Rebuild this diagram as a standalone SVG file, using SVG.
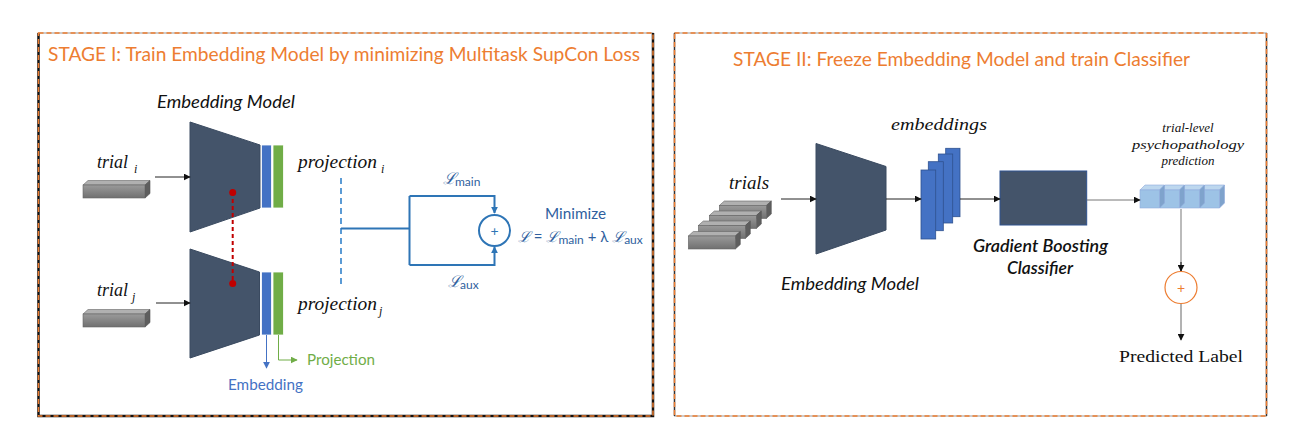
<svg xmlns="http://www.w3.org/2000/svg" width="1310" height="436" viewBox="0 0 1310 436">
<defs>
<style>
.title{font-family:Lato,"Open Sans","Liberation Sans",sans-serif;font-size:19px;fill:#ED7D31}
.si{font-family:"Liberation Serif","DejaVu Serif",serif;font-style:italic;fill:#111}
.sans{font-family:Lato,"Open Sans","Liberation Sans",sans-serif}
.model{fill:#44546A;stroke:#3A4A60;stroke-width:1}
.blk{stroke:#222;stroke-width:1;fill:none}
.bl{stroke:#2E75B6;stroke-width:2;fill:none}
</style>
<marker id="ab" viewBox="0 0 10 10" refX="9" refY="5" markerWidth="7" markerHeight="7" orient="auto" markerUnits="userSpaceOnUse"><path d="M0,0L10,5L0,10z" fill="#111"/></marker>
<marker id="abl" viewBox="0 0 10 10" refX="9" refY="5" markerWidth="7" markerHeight="7" orient="auto" markerUnits="userSpaceOnUse"><path d="M0,0L10,5L0,10z" fill="#2E75B6"/></marker>
<marker id="aeb" viewBox="0 0 10 10" refX="9" refY="5" markerWidth="7" markerHeight="7" orient="auto" markerUnits="userSpaceOnUse"><path d="M0,0L10,5L0,10z" fill="#4472C4"/></marker>
<marker id="agr" viewBox="0 0 10 10" refX="9" refY="5" markerWidth="7" markerHeight="7" orient="auto" markerUnits="userSpaceOnUse"><path d="M0,0L10,5L0,10z" fill="#70AD47"/></marker>
<linearGradient id="gbar" x1="0" y1="0" x2="0" y2="1"><stop offset="0" stop-color="#9a9a9a"/><stop offset="1" stop-color="#707070"/></linearGradient>
<g id="bar">
<polygon points="0,0 5,-4.5 67,-4.5 62,0" fill="#b0b0b0" stroke="#666" stroke-width="0.6"/>
<polygon points="62,0 67,-4.5 67,8.5 62,13" fill="#5e5e5e" stroke="#555" stroke-width="0.6"/>
<rect x="0" y="0" width="62" height="13" fill="url(#gbar)" stroke="#666" stroke-width="0.6"/>
</g>
<g id="bar2">
<polygon points="0,0 5,-4.5 52,-4.5 47,0" fill="#b0b0b0" stroke="#666" stroke-width="0.6"/>
<polygon points="47,0 52,-4.5 52,8.5 47,13" fill="#5e5e5e" stroke="#555" stroke-width="0.6"/>
<rect x="0" y="0" width="47" height="13" fill="url(#gbar)" stroke="#666" stroke-width="0.6"/>
</g>
<g id="cube">
<polygon points="0,0 5,-5 24.5,-5 19.5,0" fill="#BDD7EE" stroke="#8FAADC" stroke-width="0.6"/>
<polygon points="19.5,0 24.5,-5 24.5,13 19.5,18" fill="#7FA3CC" stroke="#8FAADC" stroke-width="0.6"/>
<rect x="0" y="0" width="19.5" height="18" fill="#9DC3E6" stroke="#8FAADC" stroke-width="0.6"/>
</g>
</defs>
<rect width="1310" height="436" fill="#fff"/>

<!-- panels -->
<g id="panel1">
<rect x="38.5" y="33" width="614.5" height="383" fill="none" stroke="#999" stroke-width="1"/>
<path d="M38.5,33V416H653V33" fill="none" stroke="#111" stroke-width="2.5"/>
<rect x="38.5" y="33" width="614.5" height="383" fill="none" stroke="#ED7D31" stroke-width="1.5" stroke-dasharray="5,3"/>
<text class="title" x="48" y="61" textLength="592" lengthAdjust="spacingAndGlyphs">STAGE I: Train Embedding Model by minimizing Multitask SupCon Loss</text>
</g>
<g id="panel2">
<rect x="674.5" y="33" width="592" height="383" fill="none" stroke="#999" stroke-width="1"/>
<path d="M674.5,33V416M1266.5,33V416" fill="none" stroke="#333" stroke-width="1.5"/>
<rect x="674.5" y="33" width="592" height="383" fill="none" stroke="#ED7D31" stroke-width="1.5" stroke-dasharray="5,3"/>
<text class="title" x="733" y="66" textLength="457" lengthAdjust="spacingAndGlyphs">STAGE II: Freeze Embedding Model and train Classifier</text>
</g>

<!-- stage I nodes -->
<g id="trial-i">
<use href="#bar" x="83" y="185"/>
<text class="si" x="97" y="168" font-size="18">trial</text>
<text class="si" x="134" y="173" font-size="12">i</text>
</g>
<g id="trial-j">
<use href="#bar" x="83" y="314"/>
<text class="si" x="97" y="296" font-size="18">trial</text>
<text class="si" x="132" y="301" font-size="12">j</text>
</g>
<g id="model-top">
<text class="sans" x="157" y="108" font-size="17" font-style="italic" fill="#111" textLength="138" lengthAdjust="spacingAndGlyphs">Embedding Model</text>
<polygon class="model" points="190,122 260,145 260,208 190,232"/>
<rect x="261.5" y="145" width="10" height="63" fill="#4472C4" stroke="#fff" stroke-width="0.8"/>
<rect x="273" y="145" width="10.5" height="63" fill="#70AD47" stroke="#fff" stroke-width="0.8"/>
</g>
<g id="model-bottom">
<polygon class="model" points="190,249 259.5,272 259.5,335 190,358"/>
<rect x="261.5" y="272" width="10" height="63" fill="#4472C4" stroke="#fff" stroke-width="0.8"/>
<rect x="273" y="272" width="10.5" height="63" fill="#70AD47" stroke="#fff" stroke-width="0.8"/>
</g>
<g id="proj-i">
<text class="si" x="298" y="168" font-size="18" textLength="79" lengthAdjust="spacingAndGlyphs">projection</text>
<text class="si" x="381" y="173" font-size="12">i</text>
</g>
<g id="proj-j">
<text class="si" x="298" y="310" font-size="18" textLength="79" lengthAdjust="spacingAndGlyphs">projection</text>
<text class="si" x="379" y="315" font-size="12">j</text>
</g>
<g id="loss-labels" fill="#2F5F9E">
<text x="443" y="184" font-family="'DejaVu Serif',serif" font-style="italic" font-size="16">ℒ</text>
<text class="sans" x="455" y="186" font-size="12">main</text>
<text x="448" y="287" font-family="'DejaVu Serif',serif" font-style="italic" font-size="16">ℒ</text>
<text class="sans" x="460" y="289" font-size="12">aux</text>
<text class="sans" x="545" y="219" font-size="15.5" textLength="61" lengthAdjust="spacingAndGlyphs">Minimize</text>
<text x="518" y="242" font-size="15"><tspan font-family="'DejaVu Serif',serif" font-style="italic">ℒ</tspan><tspan class="sans"> = </tspan><tspan font-family="'DejaVu Serif',serif" font-style="italic">ℒ</tspan><tspan class="sans" font-size="12" dy="2">main</tspan><tspan class="sans" dy="-2"> + λ </tspan><tspan font-family="'DejaVu Serif',serif" font-style="italic">ℒ</tspan><tspan class="sans" font-size="12" dy="2">aux</tspan></text>
</g>
<g id="out-labels">
<text class="sans" x="228" y="390" font-size="15.5" fill="#4472C4" textLength="75" lengthAdjust="spacingAndGlyphs">Embedding</text>
<text class="sans" x="307" y="365" font-size="15.5" fill="#70AD47" textLength="68" lengthAdjust="spacingAndGlyphs">Projection</text>
</g>

<!-- stage II nodes -->
<g id="trials">
<text class="si" x="729" y="189" font-size="18" textLength="40" lengthAdjust="spacingAndGlyphs">trials</text>
<use href="#bar2" x="719.3" y="205.5"/>
<use href="#bar2" x="709.3" y="215.5"/>
<use href="#bar2" x="698.3" y="225.5"/>
<use href="#bar2" x="688.3" y="236"/>
</g>
<g id="model2">
<polygon class="model" points="816,143.5 886,166.5 886,230 816,254"/>
<text class="sans" x="781" y="290" font-size="17" font-style="italic" fill="#111" textLength="138" lengthAdjust="spacingAndGlyphs">Embedding Model</text>
</g>
<g id="embeddings">
<text class="si" x="891" y="130" font-size="17" textLength="96" lengthAdjust="spacingAndGlyphs">embeddings</text>
<rect x="945.7" y="148.3" width="14.3" height="68.4" fill="#4472C4" stroke="#2F528F" stroke-width="0.8"/>
<rect x="938.3" y="154" width="14.4" height="69" fill="#4472C4" stroke="#2F528F" stroke-width="0.8"/>
<rect x="928.3" y="161.7" width="15" height="69" fill="#4472C4" stroke="#2F528F" stroke-width="0.8"/>
<rect x="921" y="170" width="14.7" height="69" fill="#4472C4" stroke="#2F528F" stroke-width="0.8"/>
</g>
<g id="classifier">
<rect x="1000" y="171" width="86.7" height="54" fill="#44546A" stroke="#2F528F" stroke-width="1"/>
<text class="sans" x="973" y="252" font-size="17" font-style="italic" font-weight="600" fill="#111" textLength="135" lengthAdjust="spacingAndGlyphs">Gradient Boosting</text>
<text class="sans" x="1007" y="274" font-size="17" font-style="italic" font-weight="600" fill="#111" textLength="66" lengthAdjust="spacingAndGlyphs">Classifier</text>
</g>
<g id="prediction">
<text class="si" x="1188" y="132" font-size="13" text-anchor="middle">trial-level</text>
<text class="si" x="1188" y="148.5" font-size="13" text-anchor="middle" textLength="112" lengthAdjust="spacingAndGlyphs">psychopathology</text>
<text class="si" x="1188" y="165" font-size="13" text-anchor="middle">prediction</text>
<use href="#cube" x="1200" y="190"/>
<use href="#cube" x="1180" y="190"/>
<use href="#cube" x="1160" y="190"/>
<use href="#cube" x="1140" y="190"/>
</g>
<g id="predicted">
<text x="1119" y="362" font-family="'Liberation Serif','DejaVu Serif',serif" font-size="17" fill="#111" textLength="124" lengthAdjust="spacingAndGlyphs">Predicted Label</text>
</g>

<!-- connectors -->
<g id="connectors">
<line x1="155" y1="177" x2="190" y2="177" class="blk" marker-end="url(#ab)"/>
<line x1="156" y1="303" x2="190" y2="303" class="blk" marker-end="url(#ab)"/>
<line x1="232.7" y1="192" x2="232.7" y2="284" stroke="#C00000" stroke-width="2" stroke-dasharray="4,3"/>
<circle cx="232.7" cy="192.5" r="3.5" fill="#C00000"/>
<circle cx="232.7" cy="283.5" r="3.5" fill="#C00000"/>
<line x1="341" y1="178" x2="341" y2="288" stroke="#5B9BD5" stroke-width="2" stroke-dasharray="6,4"/>
<path d="M341,228.5H409.5M409.5,196V265" class="bl"/>
<path d="M409.5,196H494.5V213" class="bl" marker-end="url(#abl)"/>
<path d="M409.5,265H494.5V247" class="bl" marker-end="url(#abl)"/>
<line x1="266.5" y1="335" x2="266.5" y2="368" stroke="#4472C4" stroke-width="1" marker-end="url(#aeb)"/>
<path d="M278.5,335V360H297" fill="none" stroke="#70AD47" stroke-width="1" marker-end="url(#agr)"/>
<line x1="781" y1="199" x2="816" y2="199" class="blk" marker-end="url(#ab)"/>
<line x1="886" y1="199" x2="921" y2="199" class="blk" marker-end="url(#ab)"/>
<line x1="960" y1="199" x2="1000" y2="199" class="blk" marker-end="url(#ab)"/>
<line x1="1087" y1="200" x2="1140" y2="200" stroke="#777" stroke-width="1" marker-end="url(#ab)"/>
<line x1="1181" y1="209" x2="1181" y2="271" stroke="#BBB" stroke-width="2"/>
<line x1="1181" y1="262" x2="1181" y2="271" stroke="#111" stroke-width="1" marker-end="url(#ab)"/>
<line x1="1181" y1="303" x2="1181" y2="340" stroke="#666" stroke-width="1" marker-end="url(#ab)"/>
</g>

<g id="sum1">
<circle cx="494.5" cy="230.5" r="15.5" fill="#fff" stroke="#2E75B6" stroke-width="2"/>
<text class="sans" x="494.5" y="235.5" font-size="14" text-anchor="middle" fill="#2E75B6">+</text>
</g>
<g id="sum2">
<circle cx="1181" cy="287.5" r="16" fill="#fff" stroke="#ED7D31" stroke-width="1.2"/>
<text class="sans" x="1181" y="292.5" font-size="14" text-anchor="middle" fill="#ED7D31">+</text>
</g>
</svg>
